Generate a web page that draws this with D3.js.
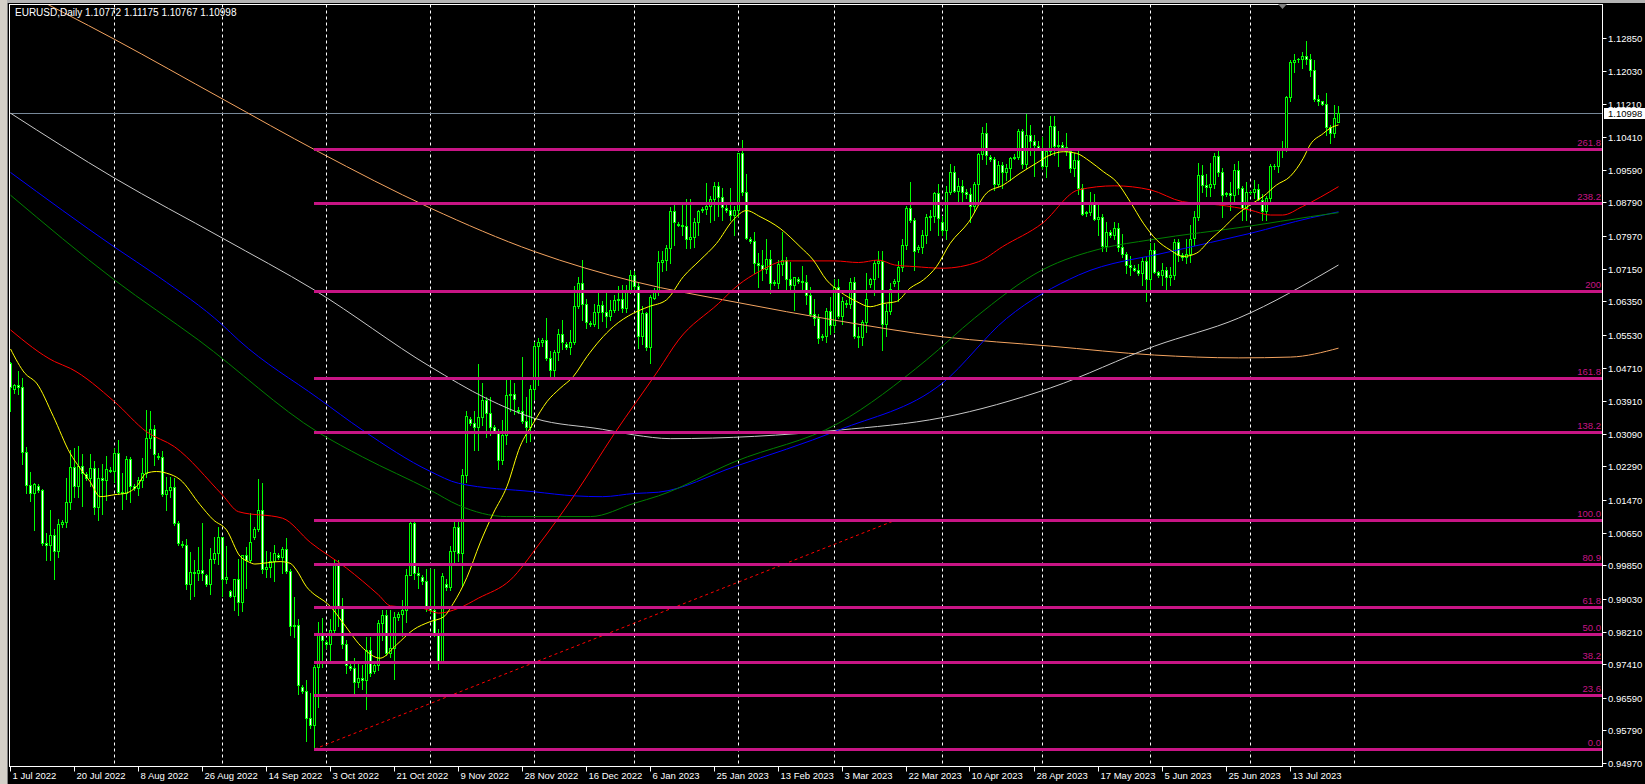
<!DOCTYPE html>
<html><head><meta charset="utf-8">
<script src="https://cdn.jsdelivr.net/npm/d3@7/dist/d3.min.js"></script>
<style>
body{margin:0;background:#000;overflow:hidden}
text{font-family:"Liberation Sans",Arial,sans-serif}
</style>
</head><body>
<svg id="c" width="1645" height="784"></svg>
<script>
// ---------- DATA ----------
const title = "EURUSD,Daily  1.10772 1.11175 1.10767 1.10998";
const lastPrice = 1.10998;
// daily bars (incl. short Sunday bars): [open, high, low, close]
const bars = [
[1.0483,1.0486,1.0366,1.0425],[1.0420,1.0432,1.0410,1.0428],[1.0428,1.0463,1.0408,1.0425],[1.0425,1.0447,1.0235,1.0265],[1.0265,1.0277,1.0162,1.0182],[1.0182,1.0215,1.0144,1.0162],[1.0162,1.0187,1.0072,1.0185],
[1.0180,1.0185,1.0165,1.0170],[1.0170,1.0174,1.0036,1.0040],[1.0040,1.0065,0.9999,1.0035],[1.0035,1.0121,0.9998,1.0059],[1.0059,1.0075,0.9952,1.0020],[1.0020,1.0098,1.0006,1.0087],
[1.0087,1.0096,1.0080,1.0092],[1.0092,1.0200,1.0080,1.0142],[1.0142,1.0269,1.0124,1.0228],[1.0228,1.0273,1.0154,1.0180],[1.0180,1.0278,1.0153,1.0229],[1.0229,1.0258,1.0130,1.0213],
[1.0210,1.0215,1.0196,1.0200],[1.0200,1.0258,1.0180,1.0224],[1.0224,1.0243,1.0112,1.0128],[1.0128,1.0225,1.0097,1.0200],[1.0200,1.0235,1.0112,1.0196],[1.0196,1.0254,1.0145,1.0222],
[1.0220,1.0226,1.0214,1.0218],[1.0218,1.0274,1.0190,1.0261],[1.0261,1.0293,1.0160,1.0165],[1.0165,1.0212,1.0123,1.0163],[1.0163,1.0254,1.0149,1.0246],[1.0246,1.0252,1.0141,1.0181],
[1.0181,1.0186,1.0170,1.0176],[1.0176,1.0203,1.0158,1.0196],[1.0196,1.0249,1.0178,1.0212],[1.0212,1.0368,1.0202,1.0298],[1.0298,1.0364,1.0274,1.0322],[1.0322,1.0330,1.0232,1.0258],
[1.0255,1.0262,1.0246,1.0252],[1.0252,1.0267,1.0155,1.0160],[1.0160,1.0202,1.0122,1.0170],[1.0170,1.0202,1.0154,1.0177],[1.0177,1.0199,1.0085,1.0090],[1.0090,1.0095,1.0035,1.0040],
[1.0038,1.0045,1.0030,1.0035],[1.0035,1.0050,0.9926,0.9940],[0.9940,1.0018,0.9901,0.9968],[0.9968,0.9999,0.9910,0.9967],[0.9967,1.0031,0.9948,0.9973],[0.9973,1.0090,0.9948,0.9965],
[0.9960,0.9963,0.9935,0.9940],[0.9940,1.0028,0.9913,1.0000],[1.0000,1.0054,0.9990,1.0015],[1.0015,1.0079,0.9988,1.0054],[1.0054,1.0055,0.9910,0.9950],[0.9950,1.0033,0.9941,0.9955],
[0.9922,0.9924,0.9906,0.9910],[0.9910,0.9950,0.9875,0.9951],[0.9951,1.0000,0.9863,0.9895],[0.9895,1.0011,0.9873,1.0010],[1.0010,1.0029,0.9929,0.9999],[0.9999,1.0114,0.9993,1.0042],
[1.0055,1.0080,1.0050,1.0075],[1.0075,1.0198,1.0070,1.0121],[1.0121,1.0187,0.9966,0.9975],[0.9975,1.0020,0.9955,0.9980],[0.9980,1.0017,0.9956,0.9995],[0.9995,1.0036,0.9945,1.0015],
[1.0010,1.0015,1.0000,1.0005],[1.0005,1.0030,0.9966,1.0026],[1.0026,1.0051,0.9966,0.9970],[0.9970,0.9977,0.9812,0.9835],[0.9835,0.9907,0.9807,0.9838],[0.9838,0.9852,0.9668,0.9690],
[0.9684,0.9690,0.9670,0.9675],[0.9675,0.9702,0.9553,0.9608],[0.9608,0.9670,0.9585,0.9592],[0.9592,0.9740,0.9535,0.9735],[0.9735,0.9846,0.9636,0.9816],[0.9816,0.9854,0.9735,0.9802],
[0.9795,0.9800,0.9782,0.9790],[0.9790,0.9853,0.9750,0.9826],[0.9826,0.9999,0.9812,0.9985],[0.9985,0.9999,0.9835,0.9885],[0.9885,0.9905,0.9780,0.9790],[0.9790,0.9800,0.9720,0.9740],
[0.9736,0.9745,0.9728,0.9732],[0.9732,0.9756,0.9670,0.9698],[0.9698,0.9745,0.9685,0.9708],[0.9708,0.9740,0.9680,0.9702],[0.9702,0.9807,0.9632,0.9775],[0.9775,0.9807,0.9713,0.9720],
[0.9725,0.9745,0.9720,0.9740],[0.9740,0.9850,0.9727,0.9842],[0.9842,0.9875,0.9800,0.9862],[0.9862,0.9875,0.9765,0.9770],[0.9770,0.9875,0.9760,0.9782],[0.9782,0.9870,0.9705,0.9858],
[0.9858,0.9870,0.9850,0.9865],[0.9865,0.9900,0.9810,0.9875],[0.9875,0.9977,0.9845,0.9962],[0.9962,1.0094,0.9960,1.0088],[1.0088,1.0093,0.9950,0.9966],[0.9966,0.9980,0.9930,0.9962],
[0.9955,0.9960,0.9940,0.9945],[0.9945,0.9975,0.9873,0.9885],[0.9885,0.9977,0.9868,0.9875],[0.9875,0.9977,0.9810,0.9815],[0.9815,0.9829,0.9730,0.9750],[0.9750,0.9965,0.9747,0.9958],
[0.9938,0.9950,0.9925,0.9932],[0.9932,1.0033,0.9925,1.0020],[1.0020,1.0095,0.9990,1.0080],[1.0080,1.0095,0.9995,1.0015],[1.0015,1.0222,0.9935,1.0208],[1.0208,1.0365,1.0190,1.0352],
[1.0345,1.0350,1.0330,1.0335],[1.0335,1.0364,1.0270,1.0325],[1.0325,1.0481,1.0270,1.0350],[1.0350,1.0435,1.0330,1.0393],[1.0393,1.0400,1.0300,1.0360],[1.0360,1.0400,1.0305,1.0325],
[1.0325,1.0330,1.0310,1.0315],[1.0315,1.0320,1.0223,1.0245],[1.0245,1.0342,1.0235,1.0305],[1.0305,1.0448,1.0283,1.0405],[1.0405,1.0449,1.0366,1.0408],[1.0408,1.0433,1.0358,1.0395],
[1.0368,1.0375,1.0360,1.0365],[1.0365,1.0497,1.0335,1.0340],[1.0340,1.0400,1.0288,1.0325],[1.0325,1.0429,1.0290,1.0420],[1.0420,1.0535,1.0395,1.0525],[1.0525,1.0545,1.0430,1.0535],
[1.0535,1.0545,1.0525,1.0540],[1.0540,1.0595,1.0490,1.0495],[1.0495,1.0512,1.0443,1.0466],[1.0466,1.0515,1.0443,1.0510],[1.0510,1.0566,1.0490,1.0555],[1.0555,1.0589,1.0518,1.0535],
[1.0530,1.0535,1.0518,1.0522],[1.0522,1.0565,1.0505,1.0535],[1.0535,1.0673,1.0530,1.0625],[1.0625,1.0695,1.0620,1.0680],[1.0680,1.0737,1.0590,1.0628],[1.0628,1.0640,1.0570,1.0585],
[1.0582,1.0588,1.0575,1.0580],[1.0580,1.0630,1.0575,1.0610],[1.0610,1.0658,1.0570,1.0626],[1.0626,1.0635,1.0588,1.0610],[1.0610,1.0658,1.0573,1.0598],[1.0598,1.0638,1.0590,1.0615],
[1.0615,1.0650,1.0608,1.0638],[1.0638,1.0672,1.0615,1.0640],[1.0640,1.0675,1.0610,1.0620],[1.0620,1.0675,1.0610,1.0660],[1.0660,1.0713,1.0655,1.0700],
[1.0700,1.0710,1.0660,1.0672],[1.0672,1.0681,1.0520,1.0549],[1.0549,1.0625,1.0530,1.0606],[1.0606,1.0610,1.0515,1.0523],[1.0523,1.0650,1.0483,1.0645],
[1.0643,1.0668,1.0640,1.0664],[1.0664,1.0760,1.0650,1.0733],[1.0733,1.0760,1.0710,1.0738],[1.0738,1.0775,1.0712,1.0766],[1.0766,1.0868,1.0730,1.0858],[1.0858,1.0875,1.0775,1.0830],
[1.0826,1.0832,1.0820,1.0823],[1.0823,1.0875,1.0800,1.0820],[1.0820,1.0887,1.0766,1.0790],[1.0790,1.0887,1.0766,1.0795],[1.0795,1.0840,1.0770,1.0830],[1.0830,1.0860,1.0800,1.0857],
[1.0860,1.0868,1.0855,1.0864],[1.0864,1.0927,1.0850,1.0870],[1.0870,1.0895,1.0830,1.0888],[1.0888,1.0930,1.0835,1.0920],[1.0920,1.0930,1.0845,1.0893],[1.0893,1.0915,1.0835,1.0868],
[1.0865,1.0872,1.0855,1.0860],[1.0860,1.0915,1.0837,1.0848],[1.0848,1.0870,1.0800,1.0860],[1.0860,1.1000,1.0845,1.1000],[1.1000,1.1033,1.0897,1.0906],[1.0906,1.0950,1.0790,1.0792],
[1.0790,1.0795,1.0780,1.0785],[1.0785,1.0805,1.0705,1.0729],[1.0729,1.0755,1.0670,1.0725],[1.0725,1.0762,1.0687,1.0715],[1.0715,1.0790,1.0705,1.0740],[1.0740,1.0762,1.0657,1.0680],
[1.0680,1.0688,1.0675,1.0683],[1.0680,1.0738,1.0669,1.0728],[1.0728,1.0805,1.0700,1.0738],[1.0738,1.0745,1.0660,1.0690],[1.0690,1.0733,1.0660,1.0675],[1.0675,1.0695,1.0613,1.0695],
[1.0690,1.0695,1.0680,1.0685],[1.0685,1.0723,1.0660,1.0682],[1.0682,1.0700,1.0630,1.0650],[1.0650,1.0670,1.0600,1.0605],[1.0605,1.0640,1.0577,1.0595],[1.0595,1.0605,1.0533,1.0545],
[1.0548,1.0555,1.0540,1.0550],[1.0550,1.0620,1.0535,1.0612],[1.0612,1.0645,1.0555,1.0578],[1.0578,1.0690,1.0560,1.0670],[1.0670,1.0690,1.0595,1.0598],[1.0598,1.0645,1.0580,1.0635],
[1.0632,1.0638,1.0622,1.0628],[1.0628,1.0694,1.0620,1.0684],[1.0684,1.0695,1.0546,1.0550],[1.0550,1.0571,1.0524,1.0548],[1.0548,1.0590,1.0527,1.0585],[1.0585,1.0706,1.0560,1.0640],
[1.0678,1.0692,1.0670,1.0690],[1.0690,1.0736,1.0650,1.0729],[1.0729,1.0760,1.0695,1.0735],[1.0735,1.0760,1.0516,1.0580],[1.0580,1.0630,1.0550,1.0612],[1.0612,1.0680,1.0605,1.0665],
[1.0680,1.0690,1.0672,1.0685],[1.0685,1.0735,1.0635,1.0720],[1.0720,1.0788,1.0710,1.0775],[1.0775,1.0870,1.0765,1.0865],[1.0865,1.0930,1.0830,1.0835],[1.0835,1.0840,1.0712,1.0760],
[1.0765,1.0775,1.0758,1.0770],[1.0770,1.0810,1.0755,1.0800],[1.0800,1.0850,1.0780,1.0842],[1.0842,1.0860,1.0810,1.0845],[1.0845,1.0905,1.0830,1.0903],[1.0903,1.0925,1.0800,1.0840],
[1.0830,1.0845,1.0800,1.0810],[1.0810,1.0920,1.0790,1.0905],[1.0905,1.0973,1.0900,1.0955],[1.0955,1.0970,1.0905,1.0907],[1.0907,1.0940,1.0880,1.0920],[1.0920,1.0935,1.0880,1.0905],
[1.0905,1.0912,1.0890,1.0900],[1.0900,1.0915,1.0830,1.0870],[1.0870,1.0930,1.0855,1.0925],[1.0925,1.1000,1.0875,1.0998],[1.0998,1.1066,1.0985,1.1050],[1.1050,1.1075,1.0975,1.0995],
[1.0990,1.0995,1.0980,1.0986],[1.0986,1.0990,1.0910,1.0925],[1.0925,1.0980,1.0920,1.0972],[1.0972,1.0978,1.0915,1.0955],[1.0955,1.0975,1.0935,1.0965],[1.0965,1.0990,1.0935,1.0988],
[1.0988,1.0998,1.0985,1.0990],[1.0990,1.1060,1.0985,1.1055],[1.1055,1.1060,1.0965,1.0975],[1.0975,1.1097,1.0965,1.1045],[1.1045,1.1070,1.0995,1.1030],[1.1030,1.1045,1.0945,1.1020],
[1.1018,1.1030,1.1008,1.1012],[1.1012,1.1040,1.0965,1.0970],[1.0970,1.1008,1.0942,1.1005],[1.1005,1.1092,1.0995,1.1068],[1.1068,1.1092,1.0995,1.1018],[1.1018,1.1055,1.0968,1.1020],
[1.1020,1.1028,1.1010,1.1015],[1.1015,1.1050,1.0995,1.1005],[1.1005,1.1010,1.0955,1.0963],[1.0963,1.1000,1.0943,1.0983],[1.0983,1.1005,1.0900,1.0914],[1.0914,1.0925,1.0848,1.0850],
[1.0852,1.0858,1.0845,1.0855],[1.0855,1.0904,1.0847,1.0875],[1.0875,1.0900,1.0835,1.0838],[1.0838,1.0875,1.0800,1.0842],[1.0842,1.0850,1.0760,1.0772],[1.0772,1.0830,1.0760,1.0806],
[1.0806,1.0812,1.0795,1.0800],[1.0800,1.0830,1.0790,1.0815],[1.0815,1.0828,1.0760,1.0770],[1.0770,1.0802,1.0745,1.0752],[1.0752,1.0758,1.0706,1.0725],[1.0725,1.0747,1.0700,1.0720],
[1.0718,1.0725,1.0710,1.0712],[1.0712,1.0728,1.0700,1.0705],[1.0705,1.0745,1.0675,1.0735],[1.0735,1.0745,1.0635,1.0690],[1.0690,1.0780,1.0665,1.0762],[1.0762,1.0780,1.0705,1.0708],
[1.0708,1.0710,1.0695,1.0700],[1.0700,1.0730,1.0675,1.0712],[1.0712,1.0720,1.0665,1.0695],[1.0695,1.0720,1.0675,1.0700],[1.0700,1.0790,1.0690,1.0782],[1.0782,1.0790,1.0735,1.0750],
[1.0750,1.0755,1.0738,1.0745],[1.0745,1.0790,1.0730,1.0752],[1.0752,1.0823,1.0732,1.0790],[1.0791,1.0857,1.0775,1.0843],[1.0843,1.0976,1.0835,1.0947],[1.0947,1.0971,1.0905,1.0922],
[1.0922,1.0950,1.0895,1.0918],[1.0918,1.0976,1.0894,1.0925],[1.0925,1.1000,1.0915,1.0994],[1.0994,1.1012,1.0945,1.0955],[1.0955,1.0965,1.0844,1.0898],
[1.0900,1.0905,1.0895,1.0902],[1.0902,1.0930,1.0860,1.0898],[1.0898,1.0975,1.0880,1.0959],[1.0959,1.0980,1.0900,1.0914],[1.0914,1.0920,1.0835,1.0865],[1.0865,1.0930,1.0835,1.0905],
[1.0905,1.0908,1.0900,1.0904],[1.0904,1.0935,1.0890,1.0912],[1.0912,1.0925,1.0885,1.0888],[1.0885,1.0900,1.0835,1.0857],[1.0857,1.0895,1.0835,1.0889],[1.0889,1.0975,1.0880,1.0969],
[1.0969,1.0975,1.0962,1.0970],[1.0970,1.1010,1.0955,1.1008],[1.1008,1.1030,1.0990,1.1014],[1.1014,1.1142,1.1005,1.1140],[1.1140,1.1230,1.1130,1.1226],[1.1226,1.1245,1.1200,1.1231],
[1.1232,1.1236,1.1225,1.1233],[1.1233,1.1250,1.1210,1.1240],[1.1240,1.1277,1.1220,1.1233],[1.1233,1.1246,1.1190,1.1205],[1.1205,1.1230,1.1130,1.1135],[1.1135,1.1143,1.1120,1.1128],
[1.1128,1.1130,1.1120,1.1122],[1.1122,1.1148,1.1045,1.1065],[1.1065,1.1070,1.1025,1.1050],[1.1050,1.1120,1.1040,1.1087],[1.10772,1.11175,1.10767,1.10998]
];
// price-scale labels
const priceTicks = [1.12850,1.12030,1.11210,1.10410,1.09590,1.08790,1.07970,1.07150,1.06350,1.05530,1.04710,1.03910,1.03090,1.02290,1.01470,1.00650,0.99850,0.99030,0.98210,0.97410,0.96590,0.95790,0.94970];
// time-scale labels: [bar index, text]
const dateLabels = [[0,"1 Jul 2022"],[16,"20 Jul 2022"],[32,"8 Aug 2022"],[48,"26 Aug 2022"],[64,"14 Sep 2022"],[80,"3 Oct 2022"],[96,"21 Oct 2022"],[112,"9 Nov 2022"],[128,"28 Nov 2022"],[144,"16 Dec 2022"],[160,"6 Jan 2023"],[176,"25 Jan 2023"],[192,"13 Feb 2023"],[208,"3 Mar 2023"],[224,"22 Mar 2023"],[240,"10 Apr 2023"],[256,"28 Apr 2023"],[272,"17 May 2023"],[288,"5 Jun 2023"],[304,"25 Jun 2023"],[320,"13 Jul 2023"]];
// month separators (bar index)
const monthGrid = [26,53,79,105,131,156,182,206,233,258,285,310,336];
// Fibonacci levels [ratio, label]
const fibLevels = [[0,"0.0"],[0.236,"23.6"],[0.382,"38.2"],[0.5,"50.0"],[0.618,"61.8"],[0.809,"80.9"],[1,"100.0"],[1.382,"138.2"],[1.618,"161.8"],[2,"200"],[2.382,"238.2"],[2.618,"261.8"]];
const fibLow = 0.9532, fibHigh = 1.0097, fibStartBar = 76, fibEndBar = 221.5;
// moving averages: [bar index, price]
const maYellow = [[0,1.0518],[3.6,1.0458],[6.5,1.0434],[10.7,1.0352],[14.9,1.0261],[17.4,1.0224],[19.9,1.0191],[22.4,1.0154],[26.1,1.0159],[29,1.0163],[31.5,1.0179],[34,1.0212],[36.5,1.0216],[39,1.0212],[42.4,1.0196],[47.4,1.0134],[50.7,1.0097],[54,1.0072],[57.4,1.0007],[59.4,0.9994],[61.1,0.9988],[63.2,0.9990],[67.4,0.9994],[69.9,0.9990],[71.5,0.9973],[74,0.9932],[76.1,0.9912],[78.4,0.9897],[80,0.9883],[83.2,0.9842],[88.2,0.9780],[92.4,0.9756],[96.5,0.9789],[100.7,0.9826],[104.9,0.9846],[108.3,0.9858],[110.7,0.9891],[114.1,0.9955],[117.4,1.0040],[120.7,1.0113],[124.1,1.0179],[127.4,1.0278],[130.7,1.0335],[134.1,1.0388],[137.4,1.0421],[140.7,1.0450],[144.1,1.0499],[147.4,1.0540],[150.7,1.0573],[155.7,1.0606],[159.5,1.0622],[164,1.0639],[168.2,1.0696],[172.4,1.0737],[176.5,1.0778],[180.7,1.0836],[184,1.0859],[187.4,1.0844],[192.4,1.0815],[197.4,1.0770],[200.7,1.0737],[204,1.0688],[207.4,1.0659],[211.5,1.0635],[214.9,1.0622],[218.2,1.0630],[221.5,1.0635],[224.9,1.0668],[228.2,1.0688],[231.5,1.0721],[234.9,1.0778],[239.5,1.0830],[244,1.0902],[248.2,1.0922],[252.4,1.0951],[256.5,1.0976],[259.9,1.0996],[263.2,1.1004],[266.5,1.1000],[269.9,1.0980],[273.2,1.0955],[276.5,1.0930],[279.9,1.0881],[283.2,1.0828],[286.5,1.0787],[289.9,1.0762],[293.2,1.0746],[296.5,1.0754],[299.9,1.0787],[303.2,1.0816],[306.5,1.0848],[309.9,1.0873],[313.2,1.0894],[316.5,1.0922],[319.9,1.0943],[323.2,1.0988],[324.9,1.1021],[328.2,1.1049],[329.9,1.1062],[332,1.1070]];
const maRed = [[0,1.0565],[11,1.0487],[15,1.0470],[26,1.0388],[34,1.0314],[41,1.0277],[53,1.0158],[57,1.0117],[68,1.0101],[75,1.0041],[84,0.9978],[92,0.9912],[95,0.9885],[103,0.9879],[107,0.9867],[112,0.9879],[117,0.9904],[125,0.9949],[132,1.0035],[141,1.0158],[151,1.0310],[162,1.0466],[167,1.0540],[177,1.0630],[182,1.0676],[187,1.0708],[194,1.0735],[206,1.0735],[212,1.0731],[217,1.0737],[221,1.0725],[226,1.0721],[233,1.0717],[242,1.0733],[248,1.0770],[258,1.0828],[267,1.0910],[276,1.0920],[285,1.0910],[293,1.0881],[302,1.0873],[310,1.0860],[315,1.0848],[318,1.0848],[323,1.0869],[332,1.0918]];
const maGreen = [[0,1.0897],[26,1.0688],[47,1.0540],[77,1.0312],[88,1.0252],[105,1.0170],[112,1.0133],[124,1.0105],[145,1.0105],[156,1.0138],[162,1.0156],[181,1.0240],[207,1.0335],[229,1.0491],[241,1.0594],[258,1.0713],[273,1.0766],[285,1.0787],[310,1.0821],[325,1.0844],[332,1.0854]];
const maBlue = [[0,1.0953],[26,1.0769],[37,1.0696],[53,1.0577],[57,1.0540],[77,1.0396],[88,1.0318],[105,1.0216],[112,1.0187],[131,1.0166],[141,1.0156],[148,1.0154],[156,1.0162],[162,1.0165],[181,1.0228],[207,1.0318],[233,1.0434],[249,1.0593],[267,1.0700],[290,1.0758],[310,1.0803],[325,1.0841],[332,1.0856]];
const maWhite = [[0,1.1099],[26,1.0939],[53,1.0791],[76,1.0663],[105,1.0474],[119,1.0396],[131,1.0347],[148,1.0320],[156,1.0306],[165,1.0297],[207,1.0318],[233,1.0349],[260,1.0422],[286,1.0525],[307,1.0594],[332,1.0725]];
const maOrange = [[0,1.1414],[26,1.1281],[53,1.1134],[77,1.1004],[105,1.0865],[131,1.0758],[156,1.0684],[182,1.0632],[206,1.0589],[233,1.0548],[260,1.0525],[286,1.0503],[307,1.0496],[320,1.0498],[332,1.0520]];

// ---------- DRAW ----------
const W = 1645, H = 784;
const P = {l: 9.5, t: 4.5, r: 1602.5, b: 766.5};
const svg = d3.select("#c");
const x = d3.scaleLinear().domain([0, 100]).range([10.5, 410.5]);
const y = d3.scaleLinear().domain([0.94970, 1.12850]).range([763.3, 37.7]);
const font = '"Liberation Sans", Arial, sans-serif';
const fibColor = "#c71585";

svg.append("rect").attr("width", W).attr("height", H).attr("fill", "#000");
// window chrome
svg.append("rect").attr("x", 0).attr("y", 0).attr("width", W).attr("height", 3).attr("fill", "#b4b4b4");
svg.append("rect").attr("x", 0).attr("y", 0).attr("width", 7).attr("height", H).attr("fill", "#d4d0c8");
svg.append("line").attr("x1", 7.5).attr("x2", 7.5).attr("y1", 3).attr("y2", H).attr("stroke", "#808080");

svg.append("defs").append("clipPath").attr("id", "plot")
  .append("rect").attr("x", P.l + 0.5).attr("y", P.t + 0.5).attr("width", P.r - P.l - 1).attr("height", P.b - P.t - 1);
const g = svg.append("g").attr("clip-path", "url(#plot)");

// month grid
g.selectAll("line.grid").data(monthGrid).join("line")
  .attr("x1", d => Math.round(x(d)) - 0.5).attr("x2", d => Math.round(x(d)) - 0.5)
  .attr("y1", P.t).attr("y2", P.b)
  .attr("stroke", "#ffffff").attr("stroke-width", 1).attr("stroke-dasharray", "3,3");

// last price line
g.append("line").attr("x1", P.l).attr("x2", P.r)
  .attr("y1", Math.round(y(lastPrice)) + 0.5).attr("y2", Math.round(y(lastPrice)) + 0.5)
  .attr("stroke", "#778899").attr("stroke-width", 1);

// candles
const cg = g.append("g").attr("shape-rendering", "crispEdges");
bars.forEach((b, i) => {
  const [o, h, l, c] = b;
  const cx = x(i);
  const hi = Math.max(h, o, c), lo = Math.min(l, o, c);
  cg.append("line").attr("x1", cx).attr("x2", cx)
    .attr("y1", Math.round(y(hi))).attr("y2", Math.round(y(lo)) + 1)
    .attr("stroke", "#00ff00");
  const yt = Math.round(y(Math.max(o, c))), yb = Math.round(y(Math.min(o, c)));
  if (yb - yt < 2) {
    cg.append("rect").attr("x", cx - 1.5).attr("y", yt).attr("width", 3).attr("height", Math.max(1, yb - yt + 1)).attr("fill", "#00ff00");
  } else {
    cg.append("rect").attr("x", cx - 1).attr("y", yt + 0.5).attr("width", 2).attr("height", yb - yt)
      .attr("fill", c >= o ? "#000000" : "#ffffff").attr("stroke", "#00ff00").attr("stroke-width", 1);
  }
});

// moving averages
const line = d3.line().x(d => x(d[0])).y(d => y(d[1])).curve(d3.curveMonotoneX);
[[maOrange, "#f4a460"], [maWhite, "#c8c8c8"], [maBlue, "#0000ff"], [maGreen, "#008000"], [maRed, "#ff0000"], [maYellow, "#ffff00"]]
  .forEach(([data, col]) => {
    g.append("path").attr("d", line(data)).attr("fill", "none").attr("stroke", col).attr("stroke-width", 1);
  });

// fibonacci
const fibRange = fibHigh - fibLow;
g.append("line")
  .attr("x1", x(fibStartBar)).attr("y1", y(fibLow))
  .attr("x2", x(fibEndBar)).attr("y2", y(fibHigh))
  .attr("stroke", "#ff0000").attr("stroke-width", 1).attr("stroke-dasharray", "3,3");
fibLevels.forEach(([r, lab]) => {
  const yy = Math.round(y(fibLow + r * fibRange));
  g.append("rect").attr("x", x(fibStartBar) - 0.5).attr("y", yy - 1).attr("width", P.r - x(fibStartBar)).attr("height", 3).attr("fill", fibColor);
  g.append("text").attr("x", 1601).attr("y", yy - 3).attr("text-anchor", "end")
    .attr("font-size", 9.5).attr("font-family", font).attr("fill", fibColor).text(lab);
});

// frame
svg.append("rect").attr("x", P.l).attr("y", P.t).attr("width", P.r - P.l).attr("height", P.b - P.t)
  .attr("fill", "none").attr("stroke", "#ffffff").attr("stroke-width", 1);

// shift marker
svg.append("path").attr("d", "M1278,4 L1287,4 L1282.5,9 Z").attr("fill", "#808080");

// price axis
priceTicks.forEach(v => {
  const yy = Math.round(y(v)) + 0.5;
  svg.append("line").attr("x1", P.r).attr("x2", P.r + 4).attr("y1", yy).attr("y2", yy).attr("stroke", "#fff");
  svg.append("text").attr("x", 1608).attr("y", yy + 3.5).attr("font-size", 9.5).attr("font-family", font)
    .attr("fill", "#ffffff").text(v.toFixed(5));
});
// last price box
const ly = Math.round(y(lastPrice));
svg.append("rect").attr("x", 1604).attr("y", ly - 5).attr("width", 41).attr("height", 11).attr("fill", "#ffffff");
svg.append("text").attr("x", 1608).attr("y", ly + 4).attr("font-size", 9.5).attr("font-family", font)
  .attr("fill", "#000000").text(lastPrice.toFixed(5));

// time axis
dateLabels.forEach(([i, t]) => {
  const xx = Math.round(x(i)) - 0.5;
  svg.append("line").attr("x1", xx).attr("x2", xx).attr("y1", P.b).attr("y2", P.b + 5).attr("stroke", "#fff");
  svg.append("text").attr("x", xx + 2).attr("y", 778.5).attr("font-size", 9.5).attr("font-family", font)
    .attr("fill", "#ffffff").text(t);
});

// title
svg.append("text").attr("x", 15).attr("y", 16).attr("font-size", 10).attr("font-family", font)
  .attr("fill", "#ffffff").text(title);
</script>
</body></html>
